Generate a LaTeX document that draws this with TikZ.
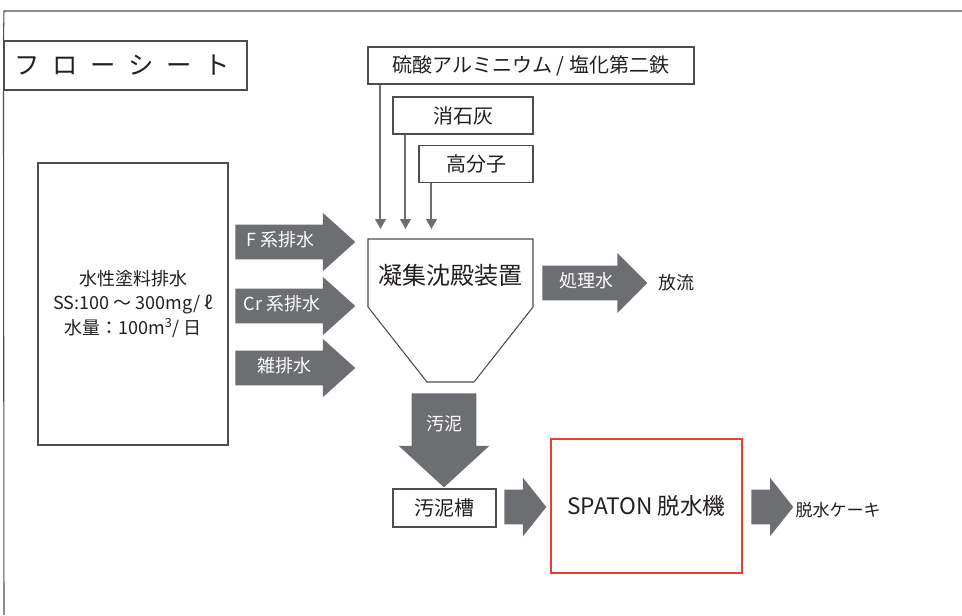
\documentclass[tikz,border=0pt]{standalone}
\usepackage{fontspec}
\setmainfont{Noto Sans CJK JP}
\usetikzlibrary{positioning, shapes.arrows, arrows.meta}
\definecolor{flowgray}{HTML}{6D6E71}
\definecolor{linegray}{HTML}{4D4D4D}
\definecolor{spatonred}{HTML}{E2412F}
\definecolor{inkgray}{HTML}{231F20}

\begin{document}
\begin{tikzpicture}[
    x=0.75pt, y=-0.75pt,
    box/.style={draw=linegray, line width=0.8pt, rectangle, inner sep=0pt, text=inkgray},
    chem/.style={box, minimum height=27.75pt, font=\fontsize{15}{18}\selectfont},
    flow/.style={single arrow, fill=flowgray, text=white, anchor=tail,
        inner xsep=0pt, inner ysep=6.25pt, text height=10pt, text depth=3pt,
        single arrow head extend=9pt, minimum width=43.5pt, single arrow tip angle=84,
        font=\fontsize{13.5}{16}\selectfont},
    feed/.style={draw=flowgray, line width=1.5pt, -{Triangle[width=8pt,length=7.5pt]}, shorten >=7.5pt},
    label/.style={font=\fontsize{13.5}{16}\selectfont, text=inkgray}
]
    \useasboundingbox (0,0) rectangle (962,615);

    % Title and page frame
    \node[box, minimum width=182.25pt, minimum height=36.75pt, font=\fontsize{19}{22}\selectfont] (title) at (125.5,65.5) {\hspace*{-5pt}\addfontfeatures{LetterSpace=50}フローシート};
    \draw[linegray, line width=0.8pt] (title.north west) -- (4,11) -- (962,11);
    \draw[linegray, line width=0.8pt] (title.south west) -- (4,615);

    % Waste water source
    \node[box, minimum width=142.5pt, minimum height=211.5pt, align=center, font=\fontsize{13.5}{18.4}\selectfont] (src) at (133,304) {水性塗料排水\\SS:100 ～ 300mg/ ℓ\\水量：100m\textsuperscript{3}/ 日};

    % Drain arrows
    \node[flow, minimum height=90pt] (fdrain) at (235,242) {F 系排水\hspace*{7.5pt}};
    \node[flow, minimum height=90pt] (crdrain) at (235,306) {Cr 系排水\hspace*{5.5pt}};
    \node[flow, minimum height=90pt] (mixdrain) at (235,368) {雑排水\hspace*{2pt}};

    % Chemicals
    \node[chem, minimum width=244.5pt] (acid) at (531,65.5) {硫酸アルミニウム / 塩化第二鉄};
    \node[chem, minimum width=105pt] (lime) at (463,115.5) {消石灰};
    \node[chem, minimum width=85.5pt] (poly) at (476,164) {高分子};

    % Settling tank
    \coordinate (settlerTop) at (450,239);
    \draw[linegray, line width=0.8pt] (368,307) -- (368,239) -- (533,239) -- (533,307) -- (474,382) -- (427,382) -- cycle;
    \node[font=\fontsize{18}{22}\selectfont, text=inkgray] (settler) at (450,275) {凝集沈殿装置};

    \draw[feed] ([xshift=9.75pt]acid.south west) -- ([xshift=9.75pt]acid.south west |- settlerTop);
    \draw[feed] ([xshift=9.75pt]lime.south west) -- ([xshift=9.75pt]lime.south west |- settlerTop);
    \draw[feed] ([xshift=9.75pt]poly.south west) -- ([xshift=9.75pt]poly.south west |- settlerTop);

    % Treated water
    \node[flow, minimum height=78.75pt, minimum width=44.25pt, single arrow head extend=9.4pt, single arrow tip angle=90] (treated) at (542,283) {処理水};
    \node[label] (release) at (676,283) {放流};

    % Sludge line
    \node[flow, shape border rotate=270, inner xsep=10.5pt, inner ysep=17.5pt, minimum height=67.5pt, minimum width=67.5pt, single arrow head extend=9.75pt, single arrow tip angle=95] (sludge) at (444,393) {汚泥};
    \node[box, minimum width=77.25pt, minimum height=28.5pt, font=\fontsize{15}{18}\selectfont] (pit) at (444.5,508) {汚泥槽};
    \node[flow, minimum height=31.5pt, single arrow head extend=9pt, single arrow tip angle=103] (tospaton) at (504,507) {};
    \node[box, draw=spatonred, minimum width=143.25pt, minimum height=100.5pt, font=\fontsize{17}{20}\selectfont] (spaton) at (646.5,506) {SPATON 脱水機};
    \node[flow, minimum height=31.5pt, single arrow head extend=9pt, single arrow tip angle=103] (tocake) at (751,507) {};
    \node[font=\fontsize{12.75}{15}\selectfont, text=inkgray] (cake) at (838,510) {脱水ケーキ};

\end{tikzpicture}
\end{document}
